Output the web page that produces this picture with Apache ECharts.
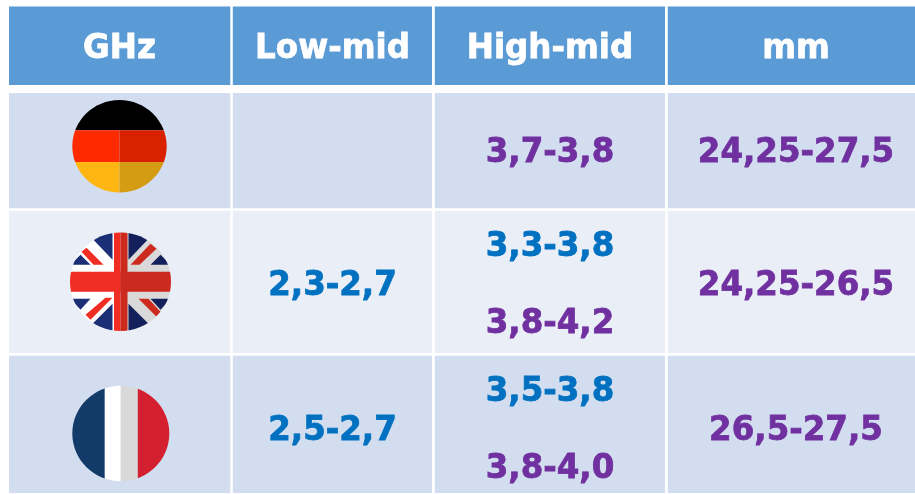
<!DOCTYPE html>
<html>
<head>
<meta charset="utf-8">
<style>html,body{margin:0;padding:0;background:#fff}#c{width:915px;height:494px}</style>
<script src="https://cdn.jsdelivr.net/npm/echarts@6/dist/echarts.min.js"></script>
</head>
<body>
<div id="c"></div>
<script>
// ---- data ----
var columns = ['GHz', 'Low-mid', 'High-mid', 'mm'];
var countries = ['Germany', 'United Kingdom', 'France'];
var lowMid = [[], ['2,3-2,7'], ['2,5-2,7']];
var highMid = [['3,7-3,8'], ['3,3-3,8', '3,8-4,2'], ['3,5-3,8', '3,8-4,0']];
var mm = [['24,25-27,5'], ['24,25-26,5'], ['26,5-27,5']];
var lowMidStatus = [[], ['blue'], ['blue']];
var highMidStatus = [['purple'], ['blue', 'purple'], ['blue', 'purple']];
var mmStatus = [['purple'], ['purple'], ['purple']];

// ---- layout and style ----
var colEdges = [[9, 230.3], [232.8, 432], [434.8, 665], [667.8, 915]];
var colCentres = [119.5, 332.5, 550, 796];
var headEdge = [6.5, 85];
var rowEdges = [[93, 208.2], [210.8, 353], [355.8, 493]];
var headTextY = 49.5;
var rowTextY = [152.5, 285.5, 430.5];
var singleLineNudge = 0.7;
var flagSpots = [[119.5, 146.2, 47.2, 46.3], [120.5, 281.7, 50.5, 49.2], [120.8, 433.4, 48.5, 47.7]];
var lineGap = 38.5;
var C = { head: '#5B9BD5', odd: '#D2DEEF', even: '#EAEFF7', blue: '#0070C0', purple: '#7030A0' };
var FONT = 'bold 33.5px "DejaVu Sans"';
var TEXT_SQUEEZE = 0.97;

var rowValues = [lowMid, highMid, mm];
var rowStatus = [lowMidStatus, highMidStatus, mmStatus];

function rect(api, x0, y0, x1, y1, fill) {
  var a = api.coord([x0, y0]), b = api.coord([x1, y1]);
  return { type: 'rect', shape: { x: a[0], y: a[1], width: b[0] - a[0], height: b[1] - a[1] }, style: { fill: fill } };
}
function poly(pts, cx, cy, fill) {
  return { type: 'polygon', shape: { points: pts.map(function (p) { return [cx + p[0], cy + p[1]]; }) }, style: { fill: fill } };
}

function flagGermany(cx, cy) {
  var y1 = cy - 15.9, y2 = cy + 15.8, L = cx - 52, R = cx + 52, T = cy - 52, B = cy + 52;
  function box(x0, y0, x1, y1, f) { return { type: 'rect', shape: { x: x0, y: y0, width: x1 - x0, height: y1 - y0 }, style: { fill: f } }; }
  return [box(L, T, R, y1, '#000000'), box(L, y1, cx, y2, '#FF2A00'), box(cx, y1, R, y2, '#D92100'),
          box(L, y2, cx, B, '#FFB612'), box(cx, y2, R, B, '#D49C12')];
}
function flagFrance(cx, cy) {
  function box(x0, x1, f) { return { type: 'rect', shape: { x: cx + x0, y: cy - 52, width: x1 - x0, height: 104 }, style: { fill: f } }; }
  return [box(-52, -16, '#133B69'), box(-16, 0, '#FFFFFF'), box(0, 17, '#D9D9D9'), box(17, 52, '#D31F2F')];
}
function flagUK(cx, cy) {
  function box(x0, y0, x1, y1, f) { return { type: 'rect', shape: { x: cx + x0, y: cy + y0, width: x1 - x0, height: y1 - y0 }, style: { fill: f } }; }
  var blueL = '#1A2F75', blueR = '#14205C', redL = '#F02D22', redR = '#CC2A1F';
  return [
    box(-52, -52, 0, 52, '#FFFFFF'), box(0, -52, 52, 52, '#D9D9D9'),
    // blue triangles
    poly([[-29, -44], [-8, -52], [-8, -22]], cx, cy, blueL),
    poly([[-50, -17], [-40, -27], [-30, -17]], cx, cy, blueL),
    poly([[-50, 17], [-30, 17], [-40, 28]], cx, cy, blueL),
    poly([[-29, 43], [-8, 22], [-8, 52]], cx, cy, blueL),
    poly([[8, -22], [8, -52], [29, -44]], cx, cy, blueR),
    poly([[30, -17], [40, -27], [50, -17]], cx, cy, blueR),
    poly([[30, 17], [50, 17], [40, 28]], cx, cy, blueR),
    poly([[8, 22], [29, 43], [8, 52]], cx, cy, blueR),
    // thin red diagonals
    poly([[-39, -30], [-34, -34], [-17, -17], [-27, -17]], cx, cy, redL),
    poly([[-35, 33], [-15, 16], [-8, 16], [-30, 38]], cx, cy, redL),
    poly([[10, -17], [30, -38], [36, -33], [19, -17]], cx, cy, redR),
    poly([[18, 17], [28, 17], [40, 30], [36, 35]], cx, cy, redR),
    // cross
    box(-52, -10, 0, 10, redL), box(0, -10, 52, 10, redR),
    box(-6.5, -52, 0, 52, redL), box(0, -52, 7, 52, redR)
  ];
}
var flagDrawers = { 'Germany': flagGermany, 'United Kingdom': flagUK, 'France': flagFrance };

var cellData = [];
columns.forEach(function (c, i) {
  cellData.push([i, -1]);
  countries.forEach(function (n, r) { cellData.push([i, r]); });
});
var flagData = countries.map(function (n, i) { return [i]; });
var textData = [];
columns.forEach(function (c, i) { textData.push([i, -1, c, 'head']); });
rowValues.forEach(function (col, ci) {
  col.forEach(function (vals, r) {
    vals.forEach(function (v, k) { textData.push([ci + 1, r, v, rowStatus[ci][r][k], k, vals.length]); });
  });
});

var option = {
  animation: false,
  backgroundColor: '#ffffff',
  grid: { left: 0, right: 0, top: 0, bottom: 0 },
  xAxis: { type: 'value', min: 0, max: 915, show: false },
  yAxis: { type: 'value', min: 0, max: 494, inverse: true, show: false },
  series: [
    {
      type: 'custom', clip: false, silent: true, data: cellData,
      encode: { x: 0, y: 1 },
      renderItem: function (p, api) {
        var c = api.value(0), r = api.value(1), e = colEdges[c];
        var ys = r < 0 ? headEdge : rowEdges[r];
        var fill = r < 0 ? C.head : (r === 1 ? C.even : C.odd);
        return rect(api, e[0], ys[0], e[1], ys[1], fill);
      }
    },
    {
      type: 'custom', clip: false, silent: true, data: flagData,
      encode: { x: 0 },
      renderItem: function (p, api) {
        var i = api.value(0), s = flagSpots[i], c = api.coord([s[0], s[1]]);
        return {
          type: 'group',
          clipPath: { type: 'ellipse', shape: { cx: c[0], cy: c[1], rx: s[2], ry: s[3] } },
          children: flagDrawers[countries[i]](c[0], c[1])
        };
      }
    },
    {
      type: 'custom', clip: false, silent: true, data: textData,
      dimensions: ['col', 'row', { name: 'text', type: 'ordinal' }, { name: 'status', type: 'ordinal' }, 'k', 'n'],
      encode: { x: 0, y: 1 },
      renderItem: function (p, api) {
        var d = textData[p.dataIndex];
        var yc = d[1] < 0 ? headTextY : rowTextY[d[1]];
        if (d[5] === 2) { yc += (d[4] === 0 ? -lineGap : lineGap); }
        else if (d[1] >= 0) { yc += singleLineNudge; }
        var c = api.coord([colCentres[d[0]], yc]);
        var col = d[3] === 'head' ? '#FFFFFF' : C[d[3]];
        return {
          type: 'text', x: c[0], y: c[1], scaleX: TEXT_SQUEEZE,
          style: { text: d[2], font: FONT, fill: col, stroke: col, lineWidth: 0.8, align: 'center', verticalAlign: 'middle' }
        };
      }
    }
  ]
};
var chart = echarts.init(document.getElementById('c'), null, { renderer: 'canvas' });
chart.setOption(option);
</script>
</body>
</html>
